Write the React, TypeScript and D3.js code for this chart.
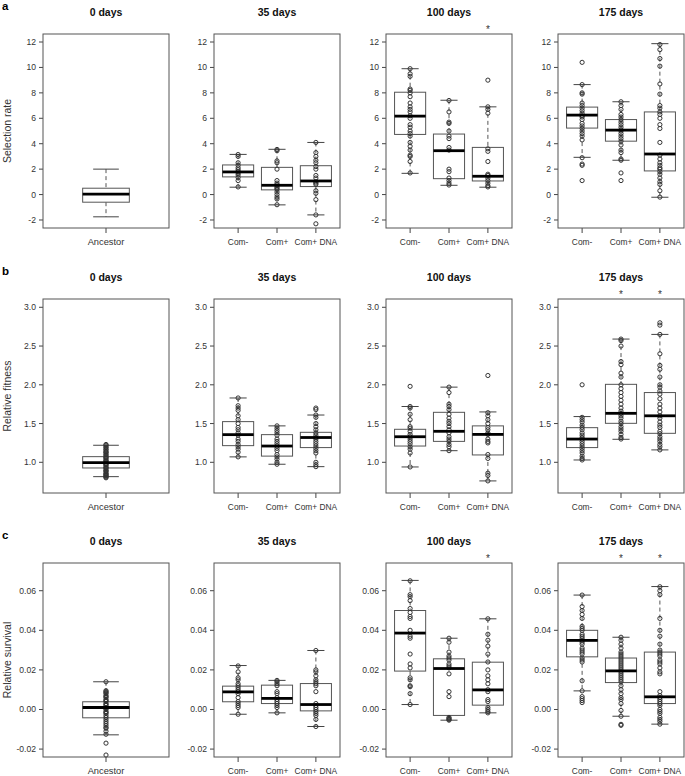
import React from 'react';
import * as d3 from 'd3';

const days = ['0 days', '35 days', '100 days', '175 days'];
const ancestorGroups = ['Ancestor'];
const treatmentGroups = ['Com-', 'Com+', 'Com+ DNA'];
const rowLetters = ['a', 'b', 'c'];
const yTitles = ['Selection rate', 'Relative fitness', 'Relative survival'];

const selTicks = [-2, 0, 2, 4, 6, 8, 10, 12];
const fitTicks = [1.0, 1.5, 2.0, 2.5, 3.0];
const survTicks = [-0.02, 0, 0.02, 0.04, 0.06];

// box stats per group: [lower whisker, q1, median, q3, upper whisker]
const selBoxes = [
  [[-1.75, -0.6, 0.03, 0.5, 2.0]],
  [[0.58, 1.39, 1.78, 2.33, 3.16], [-0.81, 0.37, 0.73, 2.14, 3.56], [-1.6, 0.63, 1.07, 2.27, 4.1]],
  [[1.67, 4.73, 6.17, 8.05, 9.9], [0.73, 1.25, 3.45, 4.76, 7.42], [0.58, 1.07, 1.44, 3.71, 6.9]],
  [[2.93, 5.23, 6.25, 6.88, 8.65], [2.7, 4.2, 5.07, 5.9, 7.3], [-0.21, 1.86, 3.19, 6.5, 11.87]],
];
const selPoints = [
  [[]],
  [
    [3.15, 3.0, 2.5, 2.3, 2.1, 1.95, 1.8, 1.7, 1.55, 1.35, 1.1, 0.6],
    [3.55, 3.45, 2.65, 2.5, 2.0, 1.1, 0.9, 0.75, 0.6, 0.5, 0.4, 0.2, 0.0, -0.2, -0.35, -0.8],
    [4.1, 3.3, 3.0, 2.7, 2.5, 2.2, 2.0, 1.5, 1.3, 1.0, 0.9, 0.8, 0.3, 0.1, -0.4, -1.6, -2.3],
  ],
  [
    [9.9, 9.5, 9.3, 8.3, 8.2, 8.0, 7.7, 7.2, 6.9, 6.7, 6.5, 6.2, 6.0, 5.5, 5.3, 5.0, 4.8, 4.6, 4.1, 3.8, 3.5, 3.1, 3.0, 2.6, 1.7],
    [7.4, 6.5, 5.7, 5.6, 5.0, 4.6, 4.4, 3.7, 3.5, 2.0, 1.8, 1.3, 1.1, 0.9, 0.75],
    [9.0, 6.9, 6.7, 6.4, 3.6, 3.4, 2.6, 1.6, 1.5, 1.3, 1.1, 0.9, 0.7, 0.6],
  ],
  [
    [10.4, 8.65, 8.0, 7.9, 7.2, 7.0, 6.8, 6.6, 6.4, 6.2, 6.1, 5.9, 5.6, 5.4, 5.2, 5.0, 4.8, 4.6, 4.3, 2.9, 2.4, 2.3, 1.1],
    [7.3, 7.0, 6.7, 6.3, 6.1, 5.9, 5.7, 5.5, 5.3, 5.1, 5.0, 4.8, 4.6, 4.4, 4.2, 3.9, 3.5, 3.3, 2.8, 2.7, 1.7, 1.1],
    [11.8, 11.4, 10.7, 10.1, 8.7, 7.9, 7.0, 6.8, 6.5, 6.3, 6.0, 5.5, 5.2, 4.1, 3.1, 2.8, 2.5, 2.3, 2.1, 2.0, 1.8, 1.6, 1.3, 1.0, 0.8, 0.3, -0.2],
  ],
];
const selStars = [[], [], [2], []];

const fitBoxes = [
  [[0.815, 0.927, 0.995, 1.073, 1.22]],
  [[1.07, 1.215, 1.357, 1.525, 1.83], [0.975, 1.08, 1.21, 1.357, 1.47], [0.944, 1.19, 1.32, 1.387, 1.61]],
  [[0.94, 1.21, 1.33, 1.426, 1.72], [1.15, 1.27, 1.4, 1.645, 1.97], [0.76, 1.095, 1.36, 1.47, 1.65]],
  [[1.03, 1.19, 1.3, 1.447, 1.59], [1.297, 1.503, 1.632, 2.006, 2.59], [1.16, 1.374, 1.6, 1.9, 2.65]],
];
const fitPoints = [
  [[1.23, 1.22, 1.2, 1.19, 1.17, 1.16, 1.14, 1.13, 1.12, 1.1, 1.09, 1.07, 1.06, 1.05, 1.03, 1.02, 1.01, 0.99, 0.98, 0.97, 0.96, 0.94, 0.93, 0.92, 0.9, 0.89, 0.88, 0.86, 0.85, 0.84, 0.83, 0.82, 0.81, 0.8]],
  [
    [1.83, 1.73, 1.7, 1.67, 1.6, 1.55, 1.5, 1.45, 1.42, 1.38, 1.35, 1.3, 1.27, 1.23, 1.2, 1.17, 1.13, 1.07],
    [1.47, 1.44, 1.41, 1.38, 1.35, 1.3, 1.27, 1.24, 1.21, 1.18, 1.15, 1.1, 1.07, 1.04, 1.0, 0.975],
    [1.7, 1.68, 1.61, 1.58, 1.5, 1.46, 1.42, 1.38, 1.35, 1.32, 1.3, 1.27, 1.24, 1.21, 1.18, 1.15, 1.12, 1.0, 0.97, 0.944],
  ],
  [
    [1.98, 1.72, 1.7, 1.62, 1.55, 1.46, 1.44, 1.4, 1.36, 1.33, 1.3, 1.27, 1.24, 1.2, 1.17, 1.12, 0.94],
    [1.97, 1.9, 1.75, 1.72, 1.68, 1.62, 1.57, 1.53, 1.5, 1.46, 1.42, 1.38, 1.33, 1.3, 1.27, 1.23, 1.2, 1.15],
    [2.12, 1.64, 1.6, 1.55, 1.5, 1.45, 1.42, 1.38, 1.36, 1.3, 1.27, 1.25, 1.1, 1.05, 0.86, 0.83, 0.76],
  ],
  [
    [2.0, 1.58, 1.55, 1.52, 1.48, 1.45, 1.42, 1.38, 1.35, 1.32, 1.3, 1.27, 1.24, 1.21, 1.18, 1.15, 1.12, 1.08, 1.05, 1.03],
    [2.59, 2.57, 2.5, 2.3, 2.26, 2.15, 2.1, 2.0, 1.95, 1.9, 1.85, 1.8, 1.75, 1.7, 1.66, 1.63, 1.6, 1.57, 1.53, 1.5, 1.46, 1.43, 1.4, 1.36, 1.32, 1.3],
    [2.8, 2.77, 2.65, 2.4, 2.25, 2.2, 2.1, 2.0, 1.97, 1.92, 1.88, 1.82, 1.75, 1.7, 1.65, 1.6, 1.57, 1.52, 1.48, 1.45, 1.4, 1.37, 1.33, 1.3, 1.27, 1.23, 1.2, 1.16],
  ],
];
const fitStars = [[], [], [], [1, 2]];

const survBoxes = [
  [[-0.0128, -0.0042, 0.001, 0.0039, 0.014]],
  [[-0.0024, 0.0039, 0.0089, 0.0118, 0.0222], [-0.0017, 0.003, 0.0056, 0.0123, 0.0147], [-0.0086, -0.0007, 0.0025, 0.0131, 0.0298]],
  [[0.0025, 0.0194, 0.0386, 0.05, 0.0652], [-0.0054, -0.003, 0.0207, 0.0256, 0.036], [-0.0017, 0.0022, 0.0099, 0.0239, 0.0458]],
  [[0.0094, 0.0266, 0.0349, 0.04, 0.0578], [-0.0034, 0.0136, 0.0195, 0.026, 0.0365], [-0.0074, 0.003, 0.0064, 0.029, 0.0621]],
];
const survPoints = [
  [[0.014, 0.0095, 0.009, 0.0085, 0.008, 0.007, 0.0065, 0.006, 0.005, 0.0045, 0.004, 0.003, 0.0025, 0.002, 0.001, 0.0005, 0.0, -0.001, -0.0015, -0.002, -0.003, -0.004, -0.005, -0.006, -0.007, -0.008, -0.009, -0.0095, -0.011, -0.0125, -0.017, -0.023]],
  [
    [0.022, 0.019, 0.016, 0.015, 0.013, 0.012, 0.011, 0.01, 0.009, 0.008, 0.006, 0.004, 0.003, 0.002, 0.001, -0.0024],
    [0.0147, 0.014, 0.013, 0.012, 0.009, 0.008, 0.006, 0.005, 0.004, 0.003, 0.002, 0.001, -0.0017],
    [0.0298, 0.02, 0.019, 0.017, 0.015, 0.014, 0.013, 0.012, 0.009, 0.003, 0.002, 0.001, 0.0, -0.001, -0.002, -0.003, -0.005, -0.0086],
  ],
  [
    [0.065, 0.058, 0.057, 0.055, 0.051, 0.049, 0.047, 0.046, 0.04, 0.037, 0.036, 0.028, 0.023, 0.021, 0.016, 0.015, 0.012, 0.0115, 0.008, 0.0025],
    [0.036, 0.034, 0.029, 0.027, 0.026, 0.025, 0.023, 0.022, 0.021, 0.018, 0.009, 0.0065, -0.004, -0.0045, -0.005, -0.0054],
    [0.0458, 0.038, 0.035, 0.032, 0.028, 0.024, 0.02, 0.017, 0.015, 0.013, 0.01, 0.009, 0.005, 0.004, 0.001, 0.0, -0.001, -0.0017],
  ],
  [
    [0.0578, 0.052, 0.05, 0.048, 0.046, 0.042, 0.041, 0.04, 0.038, 0.037, 0.036, 0.035, 0.034, 0.033, 0.031, 0.03, 0.029, 0.028, 0.026, 0.025, 0.024, 0.0145, 0.0094, 0.0065, 0.0055, 0.0045, 0.0035],
    [0.0365, 0.035, 0.033, 0.031, 0.029, 0.028, 0.027, 0.026, 0.025, 0.024, 0.023, 0.022, 0.021, 0.02, 0.019, 0.018, 0.017, 0.016, 0.015, 0.014, 0.012, 0.01, 0.008, 0.006, 0.005, 0.003, -0.0005, -0.0034, -0.0075, -0.008],
    [0.062, 0.06, 0.058, 0.046, 0.04, 0.037, 0.033, 0.03, 0.029, 0.028, 0.027, 0.025, 0.024, 0.023, 0.021, 0.019, 0.018, 0.009, 0.007, 0.006, 0.005, 0.004, 0.003, 0.002, 0.0, -0.001, -0.002, -0.004, -0.005, -0.006, -0.0074],
  ],
];
const survStars = [[], [], [2], [1, 2]];

const rows = [
  { boxes: selBoxes, points: selPoints, stars: selStars, ticks: selTicks, domain: [-2.63, 12.63], fmt: (d: number) => String(d) },
  { boxes: fitBoxes, points: fitPoints, stars: fitStars, ticks: fitTicks, domain: [0.604, 3.107], fmt: d3.format('.1f') },
  { boxes: survBoxes, points: survPoints, stars: survStars, ticks: survTicks, domain: [-0.024, 0.074], fmt: (d: number) => d3.format('.2f')(d).replace('−', '-') },
];

const W = 685, H = 776;
const panelLeft = [43, 214, 386, 558];
const panelW = 126;
const rowTop = [34, 299, 563];
const panelH = 194;
const font = '"Liberation Sans", Arial, Helvetica, sans-serif';

function Panel({ row, col }: { row: number; col: number }) {
  const r = rows[row];
  const groups = col === 0 ? ancestorGroups : treatmentGroups;
  const n = groups.length;
  const x0 = panelLeft[col];
  const y0 = rowTop[row];
  const pad = 0.04 * n;
  const x = d3.scaleLinear().domain([0.5 - pad, n + 0.5 + pad]).range([x0, x0 + panelW]);
  const y = d3.scaleLinear().domain(r.domain).range([y0 + panelH, y0]);
  const unit = x(2) - x(1);
  const boxW = (n === 1 ? 0.4 : 0.8) * unit;
  const capW = boxW * 0.55;
  const labelSize = n === 1 ? 9.3 : 8.4;

  return (
    <g>
      <text x={x0 + panelW / 2} y={y0 - 18} textAnchor="middle"
        fontWeight="bold" fontSize={10.5} fill="#111">{days[col]}</text>
      {r.ticks.map(t => (
        <g key={t}>
          <line x1={x0 - 4} x2={x0} y1={y(t)} y2={y(t)} stroke="#444" />
          <text x={x0 - 7} y={y(t)} dy="0.35em" textAnchor="end" fontSize={8.6} fill="#333">{r.fmt(t)}</text>
        </g>
      ))}
      {groups.map((g, i) => {
        const cx = x(i + 1);
        const [lo, q1, med, q3, hi] = r.boxes[col][i];
        return (
          <g key={g}>
            <line x1={cx} x2={cx} y1={y0 + panelH} y2={y0 + panelH + 5} stroke="#444" />
            <text x={cx} y={y0 + panelH + 17} textAnchor="middle" fontSize={labelSize} fill="#333">{g}</text>
            <line x1={cx} x2={cx} y1={y(hi)} y2={y(q3)} stroke="#555" strokeDasharray="4,3" />
            <line x1={cx} x2={cx} y1={y(q1)} y2={y(lo)} stroke="#555" strokeDasharray="4,3" />
            <line x1={cx - capW / 2} x2={cx + capW / 2} y1={y(hi)} y2={y(hi)} stroke="#444" />
            <line x1={cx - capW / 2} x2={cx + capW / 2} y1={y(lo)} y2={y(lo)} stroke="#444" />
            <rect x={cx - boxW / 2} y={y(q3)} width={boxW} height={y(q1) - y(q3)} fill="white" stroke="#555" />
            {r.points[col][i].map((v, k) => (
              <circle key={k} cx={cx} cy={y(v)} r={2.1} fill="none" stroke="#333" strokeWidth={1} />
            ))}
            <line x1={cx - boxW / 2} x2={cx + boxW / 2} y1={y(med)} y2={y(med)} stroke="#000" strokeWidth={2.8} />
            {r.stars[col].includes(i) && (
              <text x={cx} y={y0 - 1} textAnchor="middle" fontSize={10} fill="#333">*</text>
            )}
          </g>
        );
      })}
      <rect x={x0} y={y0} width={panelW} height={panelH} fill="none" stroke="#555" />
    </g>
  );
}

export default function App() {
  return (
    <svg width={W} height={H} style={{ display: 'block', position: 'absolute', left: 0, top: 0, background: 'white' }}
      fontFamily={font}>
      {rowLetters.map((l, row) => (
        <g key={l}>
          <text x={2} y={rowTop[row] - 24} fontWeight="bold" fontSize={11.5}>{l}</text>
          <text transform={`translate(11,${rowTop[row] + panelH / 2}) rotate(-90)`} textAnchor="middle"
            fontSize={10.5} fill="#333">{yTitles[row]}</text>
          {days.map((d, col) => <Panel key={d} row={row} col={col} />)}
        </g>
      ))}
    </svg>
  );
}
